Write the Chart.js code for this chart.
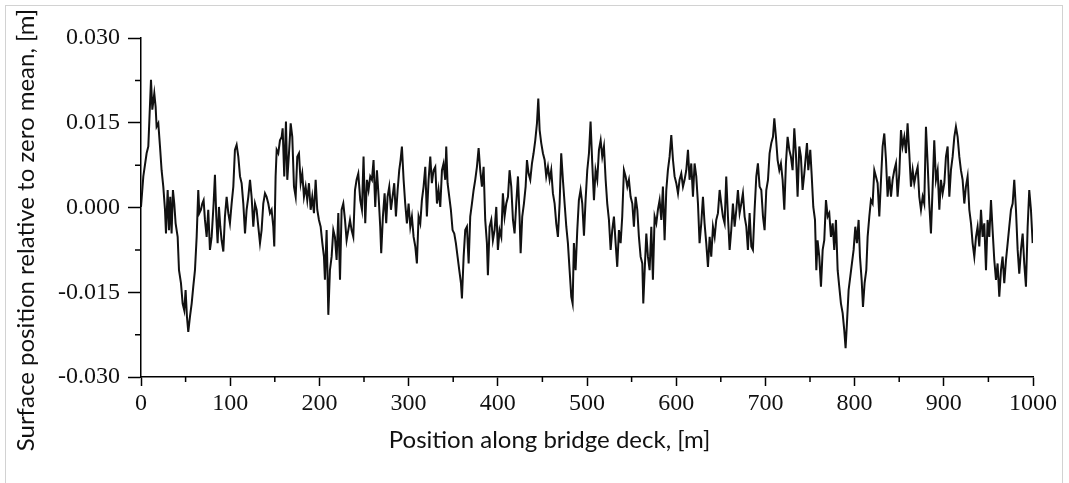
<!DOCTYPE html>
<html>
<head>
<meta charset="utf-8">
<script src="https://cdn.jsdelivr.net/npm/chart.js@4/dist/chart.umd.min.js"></script>
<style>
  html, body { margin: 0; padding: 0; background: #fff; }
  #wrap { position: relative; width: 1069px; height: 483px; overflow: hidden; }
  #frame { position: absolute; left: 5px; top: 5px; width: 1058px; height: 500px; border: 1px solid #d2d2d2; box-sizing: border-box; }
  canvas { position: absolute; left: 0; top: 0; }
</style>
</head>
<body>
<div id="wrap">
  <div id="frame"></div>
  <canvas id="profile-chart" width="1069" height="483"></canvas>
</div>
<script>
// Perfil de la superficie del tablero: posiciones en metros, alturas en milimetros
const positions = [
  0, 2.6, 6.3, 8.2, 11.2, 12.7, 14.9, 16.4, 17.5, 19.4,
  21.3, 23.1, 25.0, 26.9, 28.0, 29.9, 31.4, 32.8, 34.3, 35.8,
  37.3, 38.8, 41.1, 42.6, 44.8, 46.7, 48.5, 50.0, 51.5, 53.0,
  54.9, 56.8, 58.6, 60.5, 62.4, 64.2, 65.4, 67.2, 68.7, 70.2,
  71.7, 73.6, 75.4, 77.3, 79.2, 81.4, 82.9, 84.4, 85.9, 87.4,
  88.9, 90.4, 92.3, 94.1, 96.0, 97.9, 99.7, 101.6, 103.5, 105.3,
  107.2, 109.1, 111.0, 112.8, 114.7, 116.6, 118.4, 120.3, 122.2, 124.0,
  125.9, 127.8, 129.6, 131.5, 133.4, 135.2, 137.1, 139.0, 140.8, 142.7,
  144.6, 146.4, 148.3, 149.4, 150.9, 152.1, 153.9, 155.8, 157.7, 158.8,
  160.6, 162.5, 164.0, 165.9, 167.8, 169.6, 171.5, 173.4, 175.2, 177.1,
  179.0, 180.8, 182.7, 184.6, 186.4, 188.3, 190.2, 192.0, 193.9, 195.8,
  197.6, 199.5, 201.4, 203.3, 205.1, 206.2, 208.1, 210.0, 211.8, 213.7,
  215.6, 217.4, 219.3, 221.2, 223.1, 224.9, 226.8, 228.7, 230.5, 232.4,
  234.3, 236.1, 238.0, 239.9, 241.7, 243.6,
  245.8, 247.7, 249.5, 251.4, 253.3, 255.1, 257.0, 258.9, 260.7, 262.6,
  264.5, 266.4, 268.2, 269.3, 271.2, 273.1, 274.9, 276.4, 278.3, 280.2,
  282.0, 283.9, 285.8, 287.7, 289.5, 291.0, 292.5, 294.4, 296.2, 298.1,
  300.0, 301.9, 303.7, 305.6, 307.5, 309.3, 311.2, 313.1, 314.9, 316.8,
  318.7, 320.5, 322.4, 324.3, 326.1, 328.0, 329.9, 331.8, 333.6, 335.5,
  337.4, 339.2, 341.1, 342.2, 343.7, 345.6, 347.4, 349.3, 351.2, 353.0,
  354.9, 356.8, 358.7, 359.8, 361.7, 363.5, 365.4, 367.3, 369.1, 371.0,
  372.9, 374.7, 376.6, 378.5, 380.3, 382.2, 384.1, 385.9, 387.8, 388.9,
  390.8, 392.7, 394.5, 396.4, 398.3, 400.1, 402.0, 403.9, 405.7, 407.6,
  409.5, 411.4, 413.2, 415.1, 417.0, 418.8, 420.7, 422.6, 424.4, 425.6,
  427.4, 429.3, 431.2, 432.7, 434.5, 436.4, 438.3, 440.1, 442.0, 443.9,
  445.4, 446.9, 448.7, 450.6, 452.5, 454.3, 456.2, 458.1, 459.9, 461.8,
  463.7, 465.5, 467.4, 469.3, 471.1, 473.0, 474.9, 476.8, 478.6, 480.5,
  482.4, 483.9, 485.3, 487.2, 489.1, 490.9, 492.8, 494.7,
  496.6, 498.4, 500.3, 502.2, 504.0, 505.9, 507.8, 509.6, 511.5, 513.4,
  515.3, 517.1, 519.0, 520.9, 522.7, 524.6, 526.5, 528.3, 530.2, 532.1,
  533.9, 535.8, 537.7, 539.5, 541.4, 543.3, 545.2, 547.0, 548.9, 550.8,
  552.6, 554.5, 556.4, 558.2, 560.1, 562.0, 563.1, 565.0, 566.5, 568.3,
  570.2, 572.1, 573.9, 575.8, 577.7, 579.5, 581.4, 583.3, 585.1, 587.0,
  588.9, 590.7, 592.6, 594.5, 596.4, 598.2, 600.1, 602.0, 603.8, 605.7,
  607.6, 609.4, 611.3, 613.2, 615.0, 616.9, 618.8, 620.6, 622.5, 624.4,
  626.2, 628.1, 630.0, 631.8, 633.7, 635.6, 637.5, 639.3, 641.2, 643.1,
  644.9, 646.8, 648.7, 650.5, 652.4, 654.3, 656.1, 658.0, 659.9, 661.7,
  663.6, 665.5, 667.4, 669.2, 671.1, 673.0, 674.8, 676.7, 678.6, 680.4,
  682.3, 684.2, 686.0, 687.9, 689.8, 691.6, 693.5, 695.4, 697.3, 699.1,
  701.0, 702.9, 704.7, 706.6, 708.5, 710.0, 711.8, 713.7, 715.6, 717.4,
  719.3, 721.2, 723.0, 724.9, 726.8, 728.6, 730.5, 732.4, 734.2, 736.1,
  738.0, 739.8, 741.7,
  743.6, 746.6, 748.1, 750.3, 751.8, 753.7, 755.6, 757.1, 758.5, 760.4,
  762.3, 764.2, 766.0, 767.9, 769.8, 771.6, 773.5, 775.4, 777.2, 779.1,
  781.0, 782.8, 784.7, 786.6, 788.4, 789.9, 791.4, 793.3, 795.2, 797.0,
  798.9, 800.8, 802.6, 804.5, 806.0, 807.9, 809.4, 811.2, 813.1, 814.6,
  816.5, 818.3, 820.2, 822.1, 823.9, 825.8, 827.7, 829.6, 831.4, 833.3,
  835.2, 837.0, 838.9, 840.8, 842.6, 844.5, 846.4, 848.2, 850.1, 852.0,
  853.8, 855.7, 857.6, 859.4, 861.3, 863.2, 865.1, 866.9, 868.8, 870.7,
  872.5, 874.4, 876.3, 878.1, 880.0, 881.9, 883.7, 885.6, 887.5, 889.3,
  891.2, 893.1, 895.0, 896.8, 898.7, 900.6, 902.4, 904.3, 906.2, 908.0,
  909.9, 911.8, 913.6, 915.5, 917.4, 919.2, 921.1, 923.0, 924.8, 926.7,
  928.6, 930.5, 932.3, 934.2, 936.1, 937.9, 939.8, 941.7, 943.5, 945.4,
  947.3, 949.1, 951.0, 952.9, 954.7, 956.6, 958.5, 960.3, 962.2, 964.1,
  965.9, 967.8, 969.7, 971.6, 973.4, 975.3, 977.2, 979.0, 980.9, 982.8,
  984.6, 986.5, 988.4, 990.2, 992.1, 994.0, 995.8, 997.7, 999.6
];

const heightsMm = [
  0.1, 5.5, 9.6, 10.8, 22.6, 17.3, 20.2, 17.8, 14.3, 14.9,
  10.8, 6.6, 3.7, -0.4, -4.6, 3.1, -4.0, 1.9, -4.6, 3.1,
  0.7, -2.8, -5.2, -11.1, -13.4, -17.0, -18.2, -14.6, -19.3, -22.0,
  -19.3, -17.0, -14.0, -11.1, -5.2, 3.1, -1.0, -0.4, 0.7, 1.3,
  -2.2, -5.2, -0.4, -7.5, -5.2, 0.7, 5.8, -1.6, -6.3, 0.1,
  -3.4, -5.8, -7.8, -1.6, 1.9, -1.0, -2.8, 0.7, 3.7, 10.2,
  11.1, 9.0, 5.5, 4.3, 0.7, -4.6, -0.4, 1.9, 4.9, 1.9,
  -3.4, 0.7, -0.4, -3.4, -6.3, -4.0, 0.7, 2.5, 1.9, 0.7,
  -1.0, -0.4, -3.4, -6.9, 5.5, 10.2, 9.6, 11.9, 12.5, 14.0,
  5.5, 15.2, 4.9, 9.6, 14.9, 12.5, 3.7, 1.9, 9.0, 9.6,
  4.3, 6.0, 1.9, 3.7, 1.3, 4.3, -0.4, 1.9, -1.0, 4.9,
  -0.4, -2.2, -3.4, -6.3, -8.7, -12.8, -4.0, -19.0, -11.1, -8.7,
  -4.0, -5.2, -9.3, -1.0, -12.8, -0.4, 0.7, -2.2, -5.8, -4.0,
  -2.2, -4.0, -5.2, 3.1, 4.9, 6.0,
  1.3, -0.4, 9.0, -2.8, 4.9, 3.1, 5.5, 4.9, 8.4, 0.1,
  6.6, 1.9, -3.4, -8.1, -1.6, 2.5, -2.8, 1.9, 3.7, -0.4,
  1.9, 4.3, -1.6, 3.1, 6.6, 8.4, 10.8, 4.9, 0.7, -2.8,
  0.7, -3.4, -1.6, -5.2, -6.9, -9.9, -1.6, -2.8, 1.3, 3.7,
  7.2, -1.6, 4.9, 9.0, 4.3, 6.6, 7.2, 0.7, 3.1, 0.1,
  6.6, 7.8, 4.9, 10.8, 4.3, 1.9, -0.4, -4.0, -4.6, -6.3,
  -8.7, -11.1, -13.4, -16.1, -8.7, -4.0, -3.4, -9.9, -1.6, 0.7,
  3.1, 4.9, 7.2, 10.5, 6.6, 3.7, 7.2, -2.2, -6.3, -12.0,
  -3.4, -2.2, -5.8, -4.0, 0.1, -7.5, -4.0, -5.2, 2.5, -1.6,
  0.7, 1.9, 6.6, 3.7, -2.2, -4.6, 0.7, 5.5, -1.6, -8.1,
  -1.6, 0.7, 3.7, 8.4, 6.0, 4.9, 7.8, 9.6, 11.9, 14.9,
  19.3, 13.7, 11.4, 9.6, 8.4, 5.5, 7.2, 4.9, 6.6, 2.5,
  0.7, -2.8, -5.2, 0.7, 9.6, 4.9, 0.7, -3.4, -6.3, -11.1,
  -15.8, -17.0, -6.3, -11.1, -4.0, 1.3, 3.1, 0.7,
  -5.0, 1.3, 6.6, 9.6, 15.2, 7.8, 1.3, 6.6, 4.9, 10.2,
  11.9, 9.0, 10.8, 4.9, 0.7, -2.2, -7.5, -4.0, -1.6, -6.3,
  -10.5, -4.0, -6.3, -1.6, 6.6, 5.5, 3.7, 4.9, 1.9, 0.7,
  -3.4, 1.9, -0.4, -5.2, -8.7, -9.9, -17.0, -9.9, -4.6, -8.7,
  -11.1, -3.4, -12.8, -1.6, -2.8, -0.4, 1.3, -2.2, 3.7, -5.8,
  3.1, 6.6, 9.0, 12.8, 8.4, 5.5, 4.3, 2.5, 4.9, 6.0,
  3.7, 4.9, 6.6, 10.2, 4.9, 7.8, 1.9, 7.8, 5.5, 0.7,
  -6.3, -2.8, 1.9, -2.8, -6.3, -10.5, -5.2, -8.7, -3.4, -5.2,
  -2.2, -1.0, 3.1, 0.7, -1.6, -2.8, 5.5, -1.6, -7.5, -4.0,
  0.7, -3.4, -0.4, 3.1, -1.0, 0.7, 2.5, -1.6, -3.4, -7.5,
  -1.0, -6.9, -7.5, -0.4, 5.5, 7.8, 3.7, 3.1, -1.6, -4.0,
  3.1, 4.9, 9.6, 11.4, 12.5, 15.8, 12.5, 8.4, 6.6, 7.8,
  4.9, -0.4, 7.8, 12.5, 10.2, 9.0, 6.6, 14.0, 9.6, 1.9,
  10.8, 9.0, 3.1,
  6.0, 11.4, 6.6, 10.2, 6.0, 0.1, -2.2, -11.1, -5.8, -8.7,
  -14.0, -7.5, -5.8, 1.3, -1.6, -1.0, -5.2, -2.8, -7.5, -2.2,
  -11.1, -14.0, -17.0, -18.7, -21.7, -24.9, -20.5, -14.6, -12.2, -9.9,
  -7.5, -3.4, -6.3, -2.2, -8.7, -12.8, -17.6, -13.4, -11.1, -5.2,
  -1.6, 1.3, 0.7, 6.6, 5.5, 4.3, -1.6, 4.9, 10.8, 13.1,
  8.4, 1.9, 5.5, 1.9, 4.9, 6.6, 7.8, 1.9, 6.0, 13.7,
  10.8, 12.5, 9.6, 14.9, 9.6, 3.7, 6.6, 4.3, 6.0, 7.2,
  1.9, -0.4, 1.9, 0.7, 14.3, 7.8, 0.7, -4.6, 3.7, 11.9,
  4.9, 6.6, -0.4, 4.9, 2.5, 4.3, 9.0, 10.8, 1.9, 6.6,
  9.0, 12.5, 14.3, 12.5, 9.0, 6.6, 4.9, 0.7, 3.7, 5.5,
  -0.4, -2.8, -6.3, -8.7, -5.2, -3.4, -6.9, -0.4, -5.2, -2.8,
  -11.1, -2.2, -5.2, 1.3, -4.0, -9.3, -12.8, -9.9, -15.8, -11.1,
  -8.7, -13.4, -9.3, -6.3, -3.4, -0.4, 0.7, 4.9, -0.4, -7.5,
  -11.7, -7.5, -4.6, -9.9, -14.0, -3.4, 3.1, -0.4, -6.3
];

// Marcas de los ejes
const xTicks = [0, 100, 200, 300, 400, 500, 600, 700, 800, 900, 1000];
const xMinorTicks = [50, 150, 250, 350, 450, 550, 650, 750, 850, 950];
const yTicks = [-0.030, -0.015, 0, 0.015, 0.030];
const yMinorTicks = [-0.0225, -0.0075, 0.0075, 0.0225];

const xTitle = 'Position along bridge deck, [m]';
const yTitle = 'Surface position relative to zero mean, [m]';

const tickFont = { family: "'Liberation Serif', 'Times New Roman', serif", size: 24 };
const titleFont = "24px Lato, 'Open Sans', sans-serif";

// Puntos para Chart.js (mm -> m)
const points = positions.map((x, i) => ({ x: x, y: heightsMm[i] / 1000 }));

// Marcas menores y títulos de los ejes (el título X no va centrado en el área)
const axisExtrasPlugin = {
  id: 'axisExtras',
  afterDraw(chart) {
    const ctx = chart.ctx;
    const xs = chart.scales.x;
    const ys = chart.scales.y;
    ctx.save();
    ctx.strokeStyle = '#000';
    ctx.lineWidth = 1.5;
    ctx.beginPath();
    xMinorTicks.forEach((v) => {
      const px = xs.getPixelForValue(v);
      ctx.moveTo(px, xs.top);
      ctx.lineTo(px, xs.top + 5);
    });
    yMinorTicks.forEach((v) => {
      const py = ys.getPixelForValue(v);
      ctx.moveTo(ys.right, py);
      ctx.lineTo(ys.right - 6, py);
    });
    ctx.stroke();

    ctx.fillStyle = '#111';
    ctx.font = titleFont;
    ctx.textAlign = 'center';
    ctx.textBaseline = 'middle';
    ctx.fillText(xTitle, xs.getPixelForValue(458), 440);
    ctx.translate(26, ys.getPixelForValue(-0.004));
    ctx.rotate(-Math.PI / 2);
    ctx.fillText(yTitle, 0, 0);
    ctx.restore();
  }
};

const ctx = document.getElementById('profile-chart').getContext('2d');
const profileChart = new Chart(ctx, {
  type: 'line',
  data: {
    datasets: [{
      label: 'Surface',
      data: points,
      borderColor: '#111',
      borderWidth: 2,
      pointRadius: 0,
      tension: 0,
      fill: false
    }]
  },
  options: {
    responsive: false,
    animation: false,
    devicePixelRatio: 1,
    layout: { padding: { top: 38, right: 36, left: 0, bottom: 0 } },
    plugins: {
      legend: { display: false },
      tooltip: { enabled: false }
    },
    scales: {
      x: {
        type: 'linear',
        min: 0,
        max: 1000,
        afterBuildTicks: (s) => { s.ticks = xTicks.map((v) => ({ value: v })); },
        afterFit: (s) => { s.height = 106; },
        grid: { drawOnChartArea: false, drawTicks: true, tickLength: 9, tickColor: '#000', tickWidth: 1.5 },
        border: { display: true, color: '#000', width: 1.5 },
        ticks: { font: tickFont, color: '#111', padding: 3, maxRotation: 0, autoSkip: false, callback: (v) => String(v) },
        title: { display: false }
      },
      y: {
        type: 'linear',
        min: -0.03,
        max: 0.03,
        afterBuildTicks: (s) => { s.ticks = yTicks.map((v) => ({ value: v })); },
        afterFit: (s) => { s.width = 141; },
        grid: { drawOnChartArea: false, drawTicks: true, tickLength: 13, tickColor: '#000', tickWidth: 1.5 },
        border: { display: true, color: '#000', width: 1.5 },
        ticks: {
          font: tickFont,
          color: '#111',
          padding: 8,
          callback: (v) => Number(v).toFixed(3)
        },
        title: { display: false }
      }
    }
  },
  plugins: [axisExtrasPlugin]
});
</script>
</body>
</html>
